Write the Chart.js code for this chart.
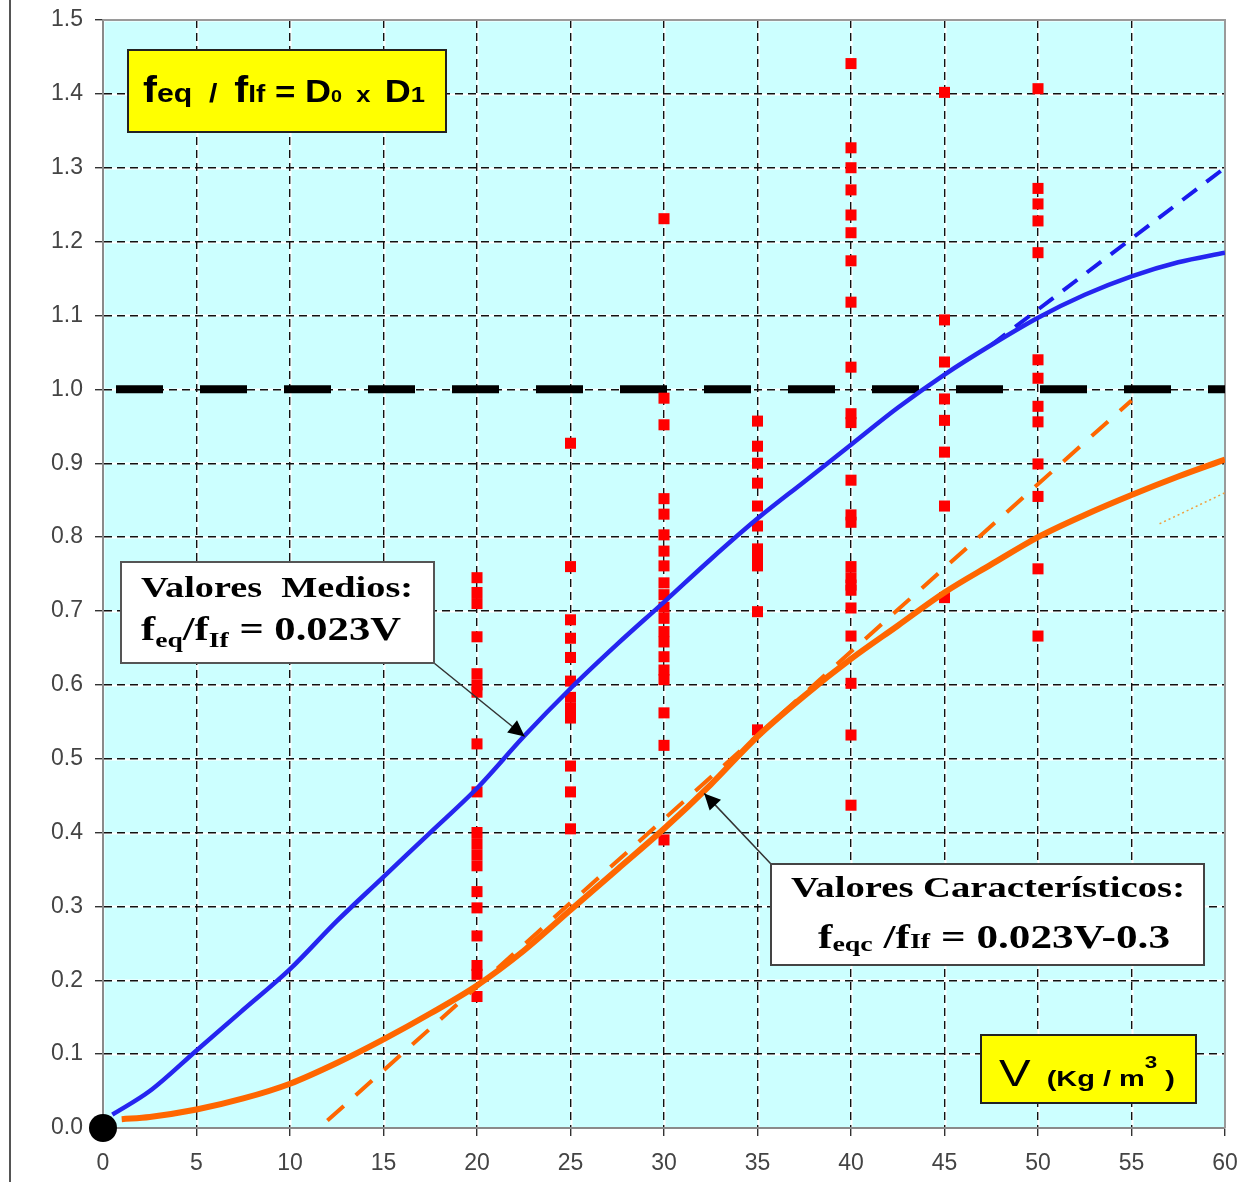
<!DOCTYPE html>
<html>
<head>
<meta charset="utf-8">
<title>feq / fIf = D0 x D1</title>
<script src="https://cdn.jsdelivr.net/npm/chart.js@4.4.0/dist/chart.umd.min.js"></script>
<style>
  html, body { margin:0; padding:0; background:#fff; }
  #wrap { position:relative; width:1249px; height:1182px; }
</style>
</head>
<body>
<div id="wrap"><canvas id="chart" width="1249" height="1182"></canvas></div>
<script>
/* measured ratios feq/fIf for each density V (Kg/m3) */
const volumes = [20, 25, 30, 35, 40, 45, 50];
const ratiosV20 = [0.745, 0.725, 0.710, 0.665, 0.615, 0.600, 0.590, 0.520, 0.455, 0.400, 0.385, 0.370, 0.355, 0.320, 0.298, 0.260, 0.220, 0.208, 0.178];
const ratiosV25 = [0.927, 0.760, 0.688, 0.663, 0.637, 0.605, 0.583, 0.568, 0.555, 0.490, 0.455, 0.405];
const ratiosV30 = [1.231, 0.988, 0.952, 0.852, 0.831, 0.803, 0.781, 0.761, 0.738, 0.722, 0.705, 0.690, 0.672, 0.658, 0.638, 0.620, 0.607, 0.562, 0.518, 0.390];
const ratiosV35 = [0.957, 0.923, 0.900, 0.873, 0.842, 0.815, 0.784, 0.772, 0.761, 0.699, 0.539];
const ratiosV40 = [1.441, 1.327, 1.300, 1.270, 1.236, 1.212, 1.174, 1.118, 1.030, 0.967, 0.955, 0.877, 0.830, 0.820, 0.760, 0.745, 0.735, 0.728, 0.704, 0.666, 0.602, 0.532, 0.437];
const ratiosV45 = [1.402, 1.094, 1.037, 0.987, 0.958, 0.915, 0.842, 0.718];
const ratiosV50 = [1.407, 1.272, 1.251, 1.228, 1.185, 1.040, 1.015, 0.977, 0.956, 0.899, 0.855, 0.757, 0.666];
const ratiosByVolume = [ratiosV20, ratiosV25, ratiosV30, ratiosV35, ratiosV40, ratiosV45, ratiosV50];

/* fitted curves */
const meanV   = [0.5, 2.5, 5, 7.5, 10, 12.5, 15, 17.5, 20, 22.5, 25, 27.5, 30, 32.5, 35, 37.5, 40, 42.5, 45, 47.5, 50, 52.5, 55, 57.5, 60];
const meanY   = [0.018, 0.050, 0.105, 0.160, 0.215, 0.280, 0.340, 0.400, 0.460, 0.530, 0.595, 0.655, 0.712, 0.770, 0.825, 0.875, 0.925, 0.975, 1.020, 1.060, 1.097, 1.128, 1.153, 1.172, 1.185];
const charV   = [1, 2.5, 5, 7.5, 10, 12.5, 15, 17.5, 20, 22.5, 25, 27.5, 30, 32.5, 35, 37.5, 40, 42.5, 45, 47.5, 50, 52.5, 55, 57.5, 60];
const charY   = [0.012, 0.015, 0.025, 0.040, 0.060, 0.088, 0.120, 0.155, 0.193, 0.240, 0.295, 0.350, 0.405, 0.465, 0.530, 0.585, 0.635, 0.680, 0.725, 0.763, 0.800, 0.830, 0.857, 0.882, 0.905];
const meanLineV = [47.5, 60];
const meanLineY = [1.06, 1.30];
const charLineV = [12, 55];
const charLineY = [0.01, 0.985];
const tailV = [56.5, 60];
const tailY = [0.818, 0.86];
const unityV = [0, 60];
const unityY = [1.0, 1.0];

const xTicks = { min: 0, max: 60, step: 5 };
const yTicks = { min: 0, max: 1.5, step: 0.1 };

function pts(xs, ys) { return xs.map((x, i) => ({ x: x, y: ys[i] })); }

const scatterPts = [];
volumes.forEach((v, i) => ratiosByVolume[i].forEach(r => scatterPts.push({ x: v, y: r })));

/* background, white grid under the dashes, frame */
const backdrop = {
  id: 'backdrop',
  beforeDraw(chart) {
    const { ctx, chartArea: a, scales: { x, y } } = chart;
    ctx.save();
    ctx.fillStyle = '#ffffff';
    ctx.fillRect(0, 0, chart.width, chart.height);
    ctx.fillStyle = '#ccffff';
    ctx.fillRect(a.left, a.top, a.right - a.left, a.bottom - a.top);
    ctx.strokeStyle = '#ffffff';
    ctx.lineWidth = 2;
    x.ticks.forEach(t => {
      const px = Math.round(x.getPixelForValue(t.value)) + 0.5;
      ctx.beginPath(); ctx.moveTo(px, a.top); ctx.lineTo(px, a.bottom); ctx.stroke();
    });
    y.ticks.forEach(t => {
      const py = Math.round(y.getPixelForValue(t.value)) + 0.5;
      ctx.beginPath(); ctx.moveTo(a.left, py); ctx.lineTo(a.right, py); ctx.stroke();
    });
    ctx.strokeStyle = '#555';
    ctx.lineWidth = 2;
    ctx.beginPath(); ctx.moveTo(10, 0); ctx.lineTo(10, chart.height); ctx.stroke();
    ctx.restore();
  },
  beforeDatasetsDraw(chart) {
    const { ctx, chartArea: a } = chart;
    ctx.save();
    ctx.strokeStyle = '#9a9a9a';
    ctx.lineWidth = 2;
    ctx.beginPath();
    ctx.moveTo(a.left, a.top); ctx.lineTo(a.right, a.top); ctx.lineTo(a.right, a.bottom);
    ctx.stroke();
    ctx.restore();
  }
};

/* draw a row of text pieces, squeezed to a target width */
function drawRuns(ctx, runs, x, base, width) {
  let total = 0;
  runs.forEach(r => { ctx.font = r.font; total += ctx.measureText(r.t).width; });
  const k = width ? width / total : 1;
  ctx.save();
  ctx.translate(x, base);
  ctx.scale(k, 1);
  let cx = 0;
  runs.forEach(r => {
    ctx.font = r.font;
    ctx.fillText(r.t, cx, r.dy || 0);
    cx += ctx.measureText(r.t).width;
  });
  ctx.restore();
}

function box(ctx, x1, y1, x2, y2, fill, stroke) {
  ctx.fillStyle = fill;
  ctx.fillRect(x1, y1, x2 - x1, y2 - y1);
  ctx.strokeStyle = stroke;
  ctx.lineWidth = 2;
  ctx.strokeRect(x1, y1, x2 - x1, y2 - y1);
}

function arrow(ctx, x1, y1, x2, y2) {
  const ang = Math.atan2(y2 - y1, x2 - x1);
  ctx.strokeStyle = '#333';
  ctx.lineWidth = 1.5;
  ctx.beginPath(); ctx.moveTo(x1, y1); ctx.lineTo(x2, y2); ctx.stroke();
  ctx.fillStyle = '#000';
  ctx.beginPath();
  ctx.moveTo(x2, y2);
  ctx.lineTo(x2 - 18 * Math.cos(ang - 0.45), y2 - 18 * Math.sin(ang - 0.45));
  ctx.lineTo(x2 - 18 * Math.cos(ang + 0.45), y2 - 18 * Math.sin(ang + 0.45));
  ctx.closePath();
  ctx.fill();
}

const notes = {
  id: 'notes',
  afterDatasetsDraw(chart) {
    const { ctx, scales: { x, y } } = chart;
    const sans = '"Liberation Sans", Arial, sans-serif';
    const serif = '"Liberation Serif", "Times New Roman", serif';
    ctx.save();
    ctx.textBaseline = 'alphabetic';
    ctx.fillStyle = '#000';

    // title formula
    box(ctx, 128, 50, 446, 132, '#ffff00', '#222');
    ctx.fillStyle = '#000';
    drawRuns(ctx, [
      { t: 'f', font: 'bold 36px ' + sans },
      { t: 'eq', font: 'bold 26px ' + sans },
      { t: '  /  ', font: 'bold 26px ' + sans },
      { t: 'f', font: 'bold 36px ' + sans },
      { t: 'If', font: 'bold 24px ' + sans },
      { t: ' = ', font: 'bold 30px ' + sans },
      { t: 'D', font: 'bold 31px ' + sans },
      { t: '0', font: 'bold 17px ' + sans },
      { t: '  x  ', font: 'bold 22px ' + sans },
      { t: 'D', font: 'bold 31px ' + sans },
      { t: '1', font: 'bold 22px ' + sans }
    ], 143, 102, 282);

    // mean values
    const tip1x = x.getPixelForValue(22.55), tip1y = y.getPixelForValue(0.53);
    arrow(ctx, 434, 663, tip1x, tip1y);
    box(ctx, 121, 562, 434, 663, '#ffffff', '#555');
    ctx.fillStyle = '#000';
    drawRuns(ctx, [{ t: 'Valores  Medios:', font: 'bold 30px ' + serif }], 141, 597, 272);
    drawRuns(ctx, [
      { t: 'f', font: 'bold 34px ' + serif },
      { t: 'eq', font: 'bold 22px ' + serif, dy: 7 },
      { t: '/f', font: 'bold 34px ' + serif },
      { t: 'If', font: 'bold 22px ' + serif, dy: 7 },
      { t: ' = 0.023V', font: 'bold 34px ' + serif }
    ], 141, 640, 260);

    // characteristic values
    const tip2x = x.getPixelForValue(32.15), tip2y = y.getPixelForValue(0.453);
    arrow(ctx, 771, 864, tip2x, tip2y);
    box(ctx, 771, 864, 1204, 965, '#ffffff', '#444');
    ctx.fillStyle = '#000';
    drawRuns(ctx, [{ t: 'Valores Característicos:', font: 'bold 30px ' + serif }], 791, 897, 394);
    drawRuns(ctx, [
      { t: 'f', font: 'bold 34px ' + serif },
      { t: 'eqc', font: 'bold 22px ' + serif, dy: 3 },
      { t: ' /f', font: 'bold 34px ' + serif },
      { t: 'If', font: 'bold 22px ' + serif },
      { t: ' = 0.023V-0.3', font: 'bold 34px ' + serif }
    ], 818, 948, 352);

    // axis unit
    box(ctx, 981, 1035, 1196, 1103, '#ffff00', '#222');
    ctx.fillStyle = '#000';
    drawRuns(ctx, [
      { t: 'V', font: '36px ' + sans },
      { t: '  (Kg / m', font: 'bold 22px ' + sans },
      { t: '3', font: 'bold 17px ' + sans, dy: -18 },
      { t: ' )', font: 'bold 22px ' + sans }
    ], 999, 1086, 176);

    ctx.restore();
  }
};

new Chart(document.getElementById('chart'), {
  type: 'scatter',
  data: {
    datasets: [
      { label: 'origin', data: [{ x: 0, y: 0 }], pointStyle: 'circle', pointRadius: 14,
        backgroundColor: '#000', borderWidth: 0, clip: false, order: 0 },
      { label: 'Valores Medios', data: pts(meanV, meanY), showLine: true, pointRadius: 0,
        borderColor: '#2525f0', borderWidth: 4.5, cubicInterpolationMode: 'monotone', order: 1 },
      { label: 'Valores Característicos', data: pts(charV, charY), showLine: true, pointRadius: 0,
        borderColor: '#ff6600', borderWidth: 6, cubicInterpolationMode: 'monotone', order: 2 },
      { label: '0.023V', data: pts(meanLineV, meanLineY), showLine: true, pointRadius: 0,
        borderColor: '#1a1aee', borderWidth: 4, borderDash: [18, 12], order: 3 },
      { label: '0.023V-0.3', data: pts(charLineV, charLineY), showLine: true, pointRadius: 0,
        borderColor: '#ff6600', borderWidth: 4, borderDash: [22, 16], order: 4 },
      { label: 'tail', data: pts(tailV, tailY), showLine: true, pointRadius: 0,
        borderColor: '#f0a040', borderWidth: 1.5, borderDash: [2, 3], order: 5 },
      { label: 'ensayos', data: scatterPts, pointStyle: 'rect', pointRadius: 7.8,
        backgroundColor: '#ff0000', borderWidth: 0, order: 6 },
      { label: 'unidad', data: pts(unityV, unityY), showLine: true, pointRadius: 0,
        borderColor: '#000', borderWidth: 8, borderDash: [47, 37], borderDashOffset: 71,
        borderCapStyle: 'butt', order: 7 }
    ]
  },
  options: {
    responsive: false,
    animation: false,
    layout: { padding: { left: 0, top: 20, right: 24, bottom: 0 } },
    plugins: { legend: { display: false }, tooltip: { enabled: false } },
    scales: {
      x: {
        type: 'linear', min: xTicks.min, max: xTicks.max,
        afterFit(s) { s.height = 54; s.paddingLeft = 0; s.paddingRight = 0; },
        ticks: { stepSize: xTicks.step, color: '#444', padding: 14, maxRotation: 0, autoSkip: false,
          font: { family: '"Liberation Sans", Arial, sans-serif', size: 23 } },
        grid: { color: '#111', lineWidth: 1.4, tickLength: 8, tickColor: '#333', tickWidth: 1.4, tickBorderDash: [] },
        border: { display: true, color: '#8a8a8a', width: 2, dash: [8, 5] }
      },
      y: {
        type: 'linear', min: yTicks.min, max: yTicks.max,
        afterFit(s) { s.width = 103; s.paddingTop = 0; s.paddingBottom = 0; },
        ticks: { stepSize: yTicks.step, color: '#444', padding: 12, autoSkip: false,
          callback: v => Number(v).toFixed(1),
          font: { family: '"Liberation Sans", Arial, sans-serif', size: 23 } },
        grid: { color: '#111', lineWidth: 1.4, tickLength: 8, tickColor: '#333', tickWidth: 1.4, tickBorderDash: [] },
        border: { display: true, color: '#8a8a8a', width: 2, dash: [8, 5] }
      }
    }
  },
  plugins: [backdrop, notes]
});
</script>
</body>
</html>
